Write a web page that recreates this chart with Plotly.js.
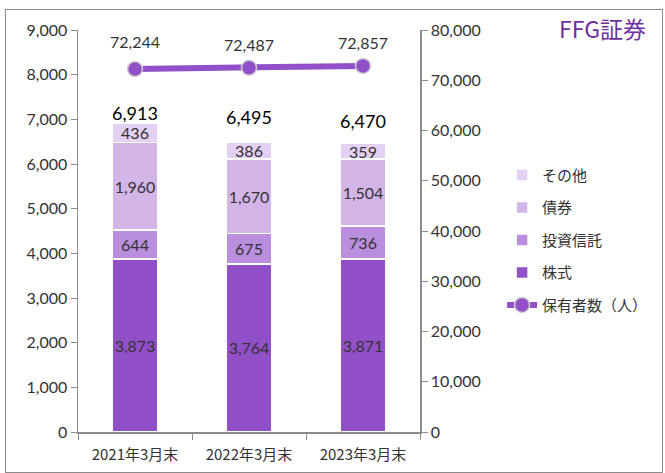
<!DOCTYPE html>
<html><head><meta charset="utf-8">
<script src="https://cdn.plot.ly/plotly-3.0.1.min.js"></script>
<style>
html,body{margin:0;padding:0;background:#fff;}
#wrap{position:relative;width:665px;height:473px;}
#chart{width:665px;height:473px;}
#frame{position:absolute;left:5px;top:9px;width:656px;height:462px;border:1.5px solid #8c8c8c;pointer-events:none;}
</style></head>
<body>
<div id="wrap"><div id="chart"></div><div id="frame"></div></div>
<script>
const categories = ['2021年3月末','2022年3月末','2023年3月末'];
const stocks = [3873, 3764, 3871];
const funds = [644, 675, 736];
const bonds = [1960, 1670, 1504];
const others = [436, 386, 359];
const totals = [6913, 6495, 6470];
const holders = [72244, 72487, 72857];

const numFont = 'Lato, "Noto Sans CJK JP", sans-serif';
const jpFont = '"Noto Sans CJK JP", sans-serif';
const fmt = v => v.toLocaleString('en-US');

function barTrace(name, vals, color, rank){
  return {type:'bar', name:name, x:categories, y:vals,
    marker:{color:color, line:{color:'#ffffff', width:1.5}},
    text:vals.map(fmt), textposition:'inside', insidetextanchor:'middle', textangle:0,
    textfont:{family:numFont, size:16, color:'#333333'},
    constraintext:'none', cliponaxis:false, hoverinfo:'y',
    legendgroup:'g'+rank, legendrank:rank};
}

const traces = [
  barTrace('株式', stocks, '#9150c8', 4),
  barTrace('投資信託', funds, '#b98ede', 3),
  barTrace('債券', bonds, '#d3b5e8', 2),
  barTrace('その他', others, '#e4d0f2', 1),
  {type:'scatter', mode:'lines+markers', name:'保有者数（人）', x:categories, y:holders, yaxis:'y2',
   line:{color:'#9150c8', width:6},
   marker:{color:'#9150c8', size:15, line:{color:'#cfcfcf', width:1.5}},
   legendgroup:'g5', legendrank:5}
];

const totalShift = [-3, 12, 9];
const annotations = [];
categories.forEach((c,i)=>{
  annotations.push({x:c, y:totals[i], xref:'x', yref:'y', text:fmt(totals[i]), showarrow:false,
    yanchor:'bottom', yshift:totalShift[i], font:{family:numFont, size:18, color:'#000'}});
});
const holderShift = [16, 12, 12];
categories.forEach((c,i)=>{
  annotations.push({x:c, y:holders[i], xref:'x', yref:'y2', text:fmt(holders[i]), showarrow:false,
    yanchor:'bottom', yshift:holderShift[i], font:{family:numFont, size:16, color:'#333'}});
});
annotations.push({xref:'paper', yref:'paper', x:1.535, y:1.005, xanchor:'center', yanchor:'middle',
  text:'FFG証券', showarrow:false, font:{family:'"Noto Sans CJK JP", sans-serif', size:23, color:'#7030a0'}});

const layout = {
  width:665, height:473,
  margin:{l:78, r:245, t:30, b:41},
  paper_bgcolor:'#fff', plot_bgcolor:'#fff',
  barmode:'stack', bargap:0.6,
  showlegend:true,
  legend:{x:1.24, y:0.68, xanchor:'left', yanchor:'top', traceorder:'grouped', tracegroupgap:10,
    font:{family:jpFont, size:15, color:'#333'}, bgcolor:'rgba(0,0,0,0)'},
  xaxis:{type:'category', showline:true, linecolor:'#8c8c8c', linewidth:1.5, ticks:'outside', ticklen:6,
    tickcolor:'#8c8c8c', tickson:'boundaries', showgrid:false, zeroline:false, ticklabelstandoff:8,
    tickfont:{family:jpFont, size:15, color:'#333'}},
  yaxis:{range:[0,9000], dtick:1000, tickformat:',d', showline:true, linecolor:'#8c8c8c', linewidth:1.5,
    ticks:'outside', ticklen:6, tickcolor:'#8c8c8c', showgrid:false, zeroline:false,
    tickfont:{family:numFont, size:16, color:'#333'}},
  yaxis2:{range:[0,80000], dtick:10000, tickformat:',d', overlaying:'y', side:'right', showline:true,
    linecolor:'#8c8c8c', linewidth:1.5, ticks:'outside', ticklen:6, tickcolor:'#8c8c8c', showgrid:false,
    zeroline:false, tickfont:{family:numFont, size:16, color:'#333'}},
  annotations:annotations
};
Plotly.newPlot('chart', traces, layout, {displayModeBar:false, staticPlot:true});
</script>
</body></html>
